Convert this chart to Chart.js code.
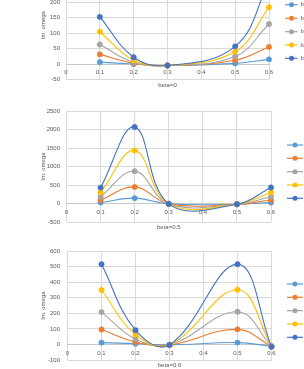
<!DOCTYPE html>
<html><head><meta charset="utf-8">
<script src="https://cdn.jsdelivr.net/npm/chart.js@4/dist/chart.umd.min.js"></script>
<style>
html,body{margin:0;padding:0;width:304px;height:369px;overflow:hidden;background:#fff;}
canvas{position:absolute;left:0;}
</style></head><body>
<canvas id="c1" width="304" height="130" style="top:-39px"></canvas>
<canvas id="c2" width="304" height="133" style="top:101px"></canvas>
<canvas id="c3" width="304" height="132" style="top:240px"></canvas>
<script>
// ---- data ----
const xValues = [0.1, 0.2, 0.3, 0.5, 0.6];
const seriesNames = ['b=1', 'b=2', 'b=3', 'b=4', 'b=5'];
const chartTitles = ['beta=0', 'beta=0.5', 'beta=0.6'];
const yAxisTitle = 'Im. omega';

// beta = 0
const beta0_s1 = [6, 0, -5, 2, 15];
const beta0_s2 = [31, 2, -5, 12, 55];
const beta0_s3 = [63, 5, -5, 24, 129];
const beta0_s4 = [104, 12, -5, 40, 183];
const beta0_s5 = [152, 22, -5, 57, 265];
// beta = 0.5
const beta05_s1 = [25, 145, -10, -20, 25];
const beta05_s2 = [95, 450, -10, -20, 95];
const beta05_s3 = [185, 875, -10, -20, 185];
const beta05_s4 = [300, 1435, -10, -20, 300];
const beta05_s5 = [430, 2070, -10, -20, 435];
// beta = 0.6
const beta06_s1 = [12, 5, -3, 12, -12];
const beta06_s2 = [96, 15, -3, 97, -12];
const beta06_s3 = [208, 35, -3, 210, -12];
const beta06_s4 = [350, 63, -3, 352, -12];
const beta06_s5 = [515, 92, -3, 516, -15];

// y tick ranges
const yTicks1 = {min: -50, max: 300, step: 50};
const yTicks2 = {min: -500, max: 2500, step: 500};
const yTicks3 = {min: -100, max: 600, step: 100};
const xTicks = {min: 0, max: 0.6, step: 0.1};

// ---- styles ----
const colors = ['#5B9BD5', '#ED7D31', '#A5A5A5', '#FFC000', '#4472C4'];
const FONT = '"Liberation Sans", Arial, sans-serif';
const TXT = '#595959';
const GRID = '#D9D9D9';

const sideLegend = {
  id: 'sideLegend',
  afterDraw(chart, args, o) {
    const ctx = chart.ctx;
    ctx.save();
    chart.data.datasets.forEach((ds, i) => {
      const y = o.ys[i];
      ctx.strokeStyle = ds.borderColor;
      ctx.lineWidth = 1.2;
      ctx.beginPath(); ctx.moveTo(o.x1, y); ctx.lineTo(o.x2, y); ctx.stroke();
      ctx.fillStyle = ds.borderColor;
      ctx.beginPath(); ctx.arc(o.mx, y, 2.5, 0, Math.PI * 2); ctx.fill();
      ctx.fillStyle = TXT;
      ctx.font = '6px ' + FONT;
      ctx.textBaseline = 'middle';
      ctx.textAlign = 'left';
      ctx.fillText(ds.label, o.tx, y);
    });
    ctx.restore();
  }
};

function makeChart(id, series, title, yt, geo) {
  const datasets = series.map((vals, i) => ({
    label: seriesNames[i],
    data: xValues.map((x, j) => ({x: x, y: vals[j]})),
    borderColor: colors[i],
    backgroundColor: colors[i],
    pointBackgroundColor: colors[i],
    pointBorderColor: colors[i],
    pointRadius: 2.7,
    pointBorderWidth: 0.5,
    borderWidth: 1.1,
    showLine: true,
    tension: 0.4,
    clip: false,
    order: series.length - i
  }));
  return new Chart(document.getElementById(id), {
    type: 'scatter',
    data: {datasets},
    plugins: [sideLegend],
    options: {
      responsive: false,
      animation: false,
      events: [],
      layout: {padding: {left: 0, right: 304 - geo.right, top: 10, bottom: geo.padBottom}},
      plugins: {
        legend: {display: false},
        tooltip: {enabled: false},
        title: {display: true, text: title, position: 'bottom', fullSize: false,
          color: TXT, font: {family: FONT, size: 6, weight: 'normal', lineHeight: 1.2},
          padding: {top: 2, bottom: 0}},
        sideLegend: geo.legend
      },
      scales: {
        x: {
          type: 'linear', position: {y: 0},
          min: xTicks.min, max: xTicks.max,
          ticks: {stepSize: xTicks.step, color: TXT, font: {family: FONT, size: 6}, padding: 5,
            maxRotation: 0, autoSkip: false,
            callback: v => (Math.abs(v) < 1e-9 ? '0' : v.toFixed(1))},
          grid: {color: GRID, lineWidth: 1, drawTicks: false},
          border: {display: true, color: '#C9C9C9', width: 1}
        },
        y: {
          type: 'linear', position: 'left',
          min: yt.min, max: yt.max,
          ticks: {stepSize: yt.step, color: TXT, font: {family: FONT, size: 6}, padding: geo.yPad,
            callback: v => String(v)},
          grid: {color: GRID, lineWidth: 1, drawTicks: false},
          border: {display: false},
          title: {display: true, text: yAxisTitle, color: TXT,
            font: {family: FONT, size: 6, lineHeight: 1.2}, padding: {top: 39.4, bottom: 0}},
          afterFit(scale) { scale.width = geo.left; }
        }
      }
    }
  });
}

makeChart('c1', [beta0_s1, beta0_s2, beta0_s3, beta0_s4, beta0_s5], chartTitles[0], yTicks1,
  {left: 66, right: 269, padBottom: 2.3, yPad: 6,
   legend: {x1: 285, x2: 297.5, mx: 291.5, tx: 300.5, ys: [4.7, 18.3, 31.7, 45, 58.3].map(v => v + 39)}});
makeChart('c2', [beta05_s1, beta05_s2, beta05_s3, beta05_s4, beta05_s5], chartTitles[1], yTicks2,
  {left: 66.5, right: 271, padBottom: 2.8, yPad: 6.5,
   legend: {x1: 287, x2: 303, mx: 295, tx: 306, ys: [145, 158.3, 171.7, 185, 198.3].map(v => v - 101)}});
makeChart('c3', [beta06_s1, beta06_s2, beta06_s3, beta06_s4, beta06_s5], chartTitles[2], yTicks3,
  {left: 67.5, right: 271.5, padBottom: 2.8, yPad: 7.5,
   legend: {x1: 287, x2: 303, mx: 295, tx: 306, ys: [284, 297.3, 310.7, 324, 337.3].map(v => v - 240)}});
</script>
</body></html>
